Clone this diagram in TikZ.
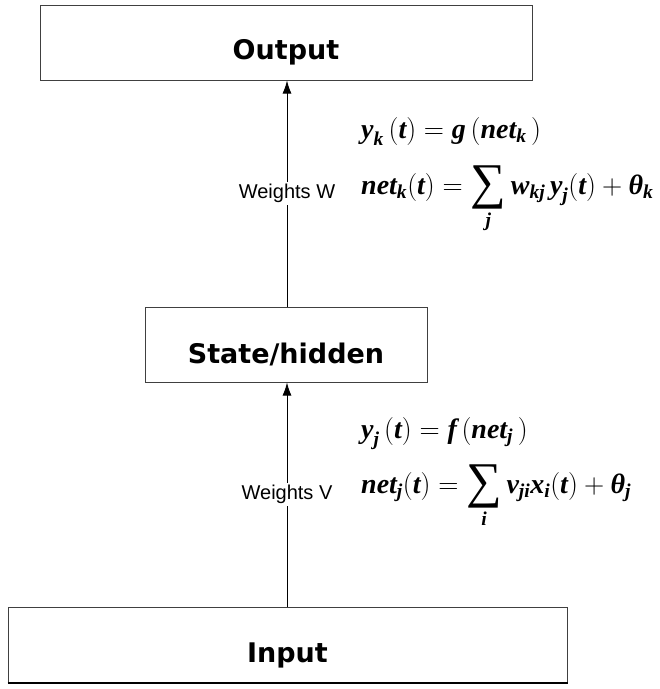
\RequirePackage{fix-cm}
\documentclass[tikz,border=0pt]{standalone}
\usepackage{amsmath}
\usepackage{fontspec}
\usetikzlibrary{arrows.meta}
\newfontfamily\boxfont{DejaVu Sans}
\newfontfamily\lblfont{Liberation Sans}
\newfontfamily\eqfont{Liberation Serif}
\newcommand{\bv}[1]{\text{\eqfont\bfseries\itshape #1}}
\newcommand{\bigsum}{\mathop{\vcenter{\hbox{\eqfont\fontsize{50}{50}\selectfont ∑}}}\limits}
\newcommand{\textdrop}{-10}
\tikzset{box/.style={draw=black!75,line width=1pt,fill=white,minimum height=75pt,inner sep=0pt}}
\tikzset{boxtext/.style={font=\boxfont\bfseries\fontsize{27}{31}\selectfont,yshift=\textdrop pt}}
\tikzset{conn/.style={draw=black,line width=1pt,-{Latex[length=13pt,width=9pt]}}}
\tikzset{weight/.style={fill=white,inner sep=2pt,font=\lblfont\fontsize{20}{24}\selectfont}}
\tikzset{eq/.style={anchor=base west,inner sep=0pt,font=\fontsize{28}{33}\selectfont}}

\begin{document}
\begin{tikzpicture}[x=1pt,y=-1pt]
	\useasboundingbox (0,0) rectangle (660,689);
	% layers
	\node [box,minimum width=492pt,label={[boxtext]center:Output}] (out) at (286,42.5) {};
	\node [box,minimum width=282pt,label={[boxtext]center:State/hidden}] (st) at (286,344.5) {};
	\node [box,minimum width=559pt,label={[boxtext]center:Input}] (in) at (287.5,645) {};
	\draw [line width=2pt] (in.south west) -- (in.south east);
	
	% weights
	\draw [conn] (in.north -| 287,0) -- (st.south -| 287,0)
		node [midway,weight] (wv) {Weights V};
	\draw [conn] (st.north -| 287,0) -- (out.south -| 287,0)
		node [midway,weight] (ww) {Weights W};
	
	% equations
	\node [eq] (yk) at (361,138)
		{$\bv{y}_{\bv{k}}\,(\bv{t}) = \bv{g}\,(\bv{net}_{\bv{k}}\,)$};
	\node [eq] (netk) at (361,194)
		{$\bv{net}_{\bv{k}}(\bv{t}) = \bigsum_{\bv{j}} \bv{w}_{\bv{kj}}\,\bv{y}_{\bv{j}}(\bv{t}) + \bv{θ}_{\bv{k}}$};
	\node [eq] (yj) at (361,438)
		{$\bv{y}_{\bv{j}}\,(\bv{t}) = \bv{f}\,(\bv{net}_{\bv{j}}\,)$};
	\node [eq] (netj) at (361,493)
		{$\bv{net}_{\bv{j}}(\bv{t}) = \bigsum_{\bv{i}} \bv{v}_{\bv{ji}}\bv{x}_{\bv{i}}(\bv{t}) + \bv{θ}_{\bv{j}}$};
\end{tikzpicture}
\end{document}
